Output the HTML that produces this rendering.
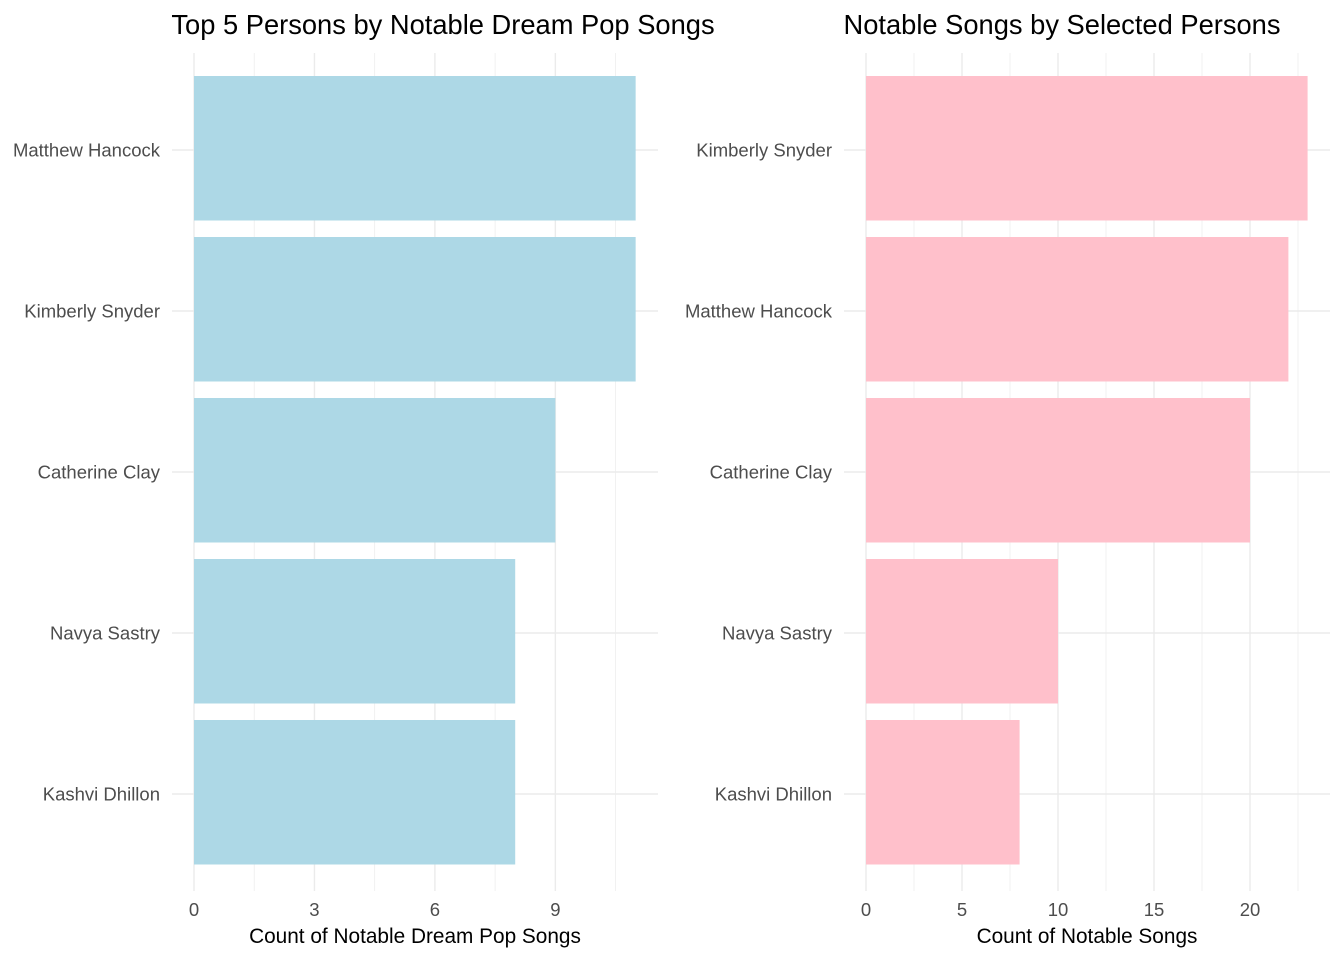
<!DOCTYPE html>
<html><head><meta charset="utf-8"><style>
body{margin:0;background:#fff}
svg text{font-family:"Liberation Sans",Arial,sans-serif}
</style></head><body>
<svg id="chart" width="1344" height="960" xmlns="http://www.w3.org/2000/svg"></svg>
<script>
const leftCats=["Matthew Hancock","Kimberly Snyder","Catherine Clay","Navya Sastry","Kashvi Dhillon"];
const leftVals=[11,11,9,8,8];
const leftTicks=[0,3,6,9];
const leftMinor=[1.5,4.5,7.5,10.5];
const rightCats=["Kimberly Snyder","Matthew Hancock","Catherine Clay","Navya Sastry","Kashvi Dhillon"];
const rightVals=[23,22,20,10,8];
const rightTicks=[0,5,10,15,20];
const rightMinor=[2.5,7.5,12.5,17.5,22.5];
const svg=document.getElementById('chart');
const NS="http://www.w3.org/2000/svg";
function mk(tag,attrs,parent){const e=document.createElementNS(NS,tag);for(const k in attrs)e.setAttribute(k,attrs[k]);(parent||svg).appendChild(e);return e;}
function panel(o){
  const g=mk('g',{});
  
  
  const x=v=>o.x0+v*o.scale;
  const y=i=>148.5+i*161;
  const top=53,bot=891;
  o.minor.forEach(v=>{const l=mk('line',{x1:x(v),x2:x(v),y1:top,y2:bot,stroke:'#ebebeb','stroke-width':0.7},g);
    });
  o.ticks.forEach(v=>{const l=mk('line',{x1:x(v),x2:x(v),y1:top,y2:bot,stroke:'#ebebeb','stroke-width':1.4},g);
    });
  o.cats.forEach((c,i)=>{const l=mk('line',{x1:o.left,x2:o.right,y1:y(i)+1.5,y2:y(i)+1.5,stroke:'#ebebeb','stroke-width':1.4},g);
    });
  o.cats.forEach((c,i)=>{
    const r=mk('rect',{x:x(0),y:y(i)-72.5,width:x(o.vals[i])-x(0),height:144.5,fill:o.color},g);
    
    
    const t=mk('text',{x:o.left-12,y:y(i)+8,'text-anchor':'end','font-size':18.5,fill:'#4d4d4d'},g);
    t.textContent=c;
    
  });
  o.ticks.forEach(v=>{const t=mk('text',{x:x(v),y:916,'text-anchor':'middle','font-size':18.5,fill:'#4d4d4d'},g);
    t.textContent=v;});
  const tt=mk('text',{x:o.titleX,y:34,'text-anchor':'middle','font-size':27.3,fill:'#000'},g);
  tt.textContent=o.title;
  const xt=mk('text',{x:(o.left+o.right)/2,y:943,'text-anchor':'middle','font-size':20.8,fill:'#000'},g);
  xt.textContent=o.xtitle;
}
panel({name:'left-panel',cats:leftCats,vals:leftVals,ticks:leftTicks,minor:leftMinor,x0:194,scale:40.15,left:172,right:658,color:'#add8e6',
  title:'Top 5 Persons by Notable Dream Pop Songs',titleX:443,xtitle:'Count of Notable Dream Pop Songs'});
panel({name:'right-panel',cats:rightCats,vals:rightVals,ticks:rightTicks,minor:rightMinor,x0:866,scale:19.2,left:844,right:1330,color:'#ffc0cb',
  title:'Notable Songs by Selected Persons',titleX:1062,xtitle:'Count of Notable Songs'});
</script>
</body></html>
